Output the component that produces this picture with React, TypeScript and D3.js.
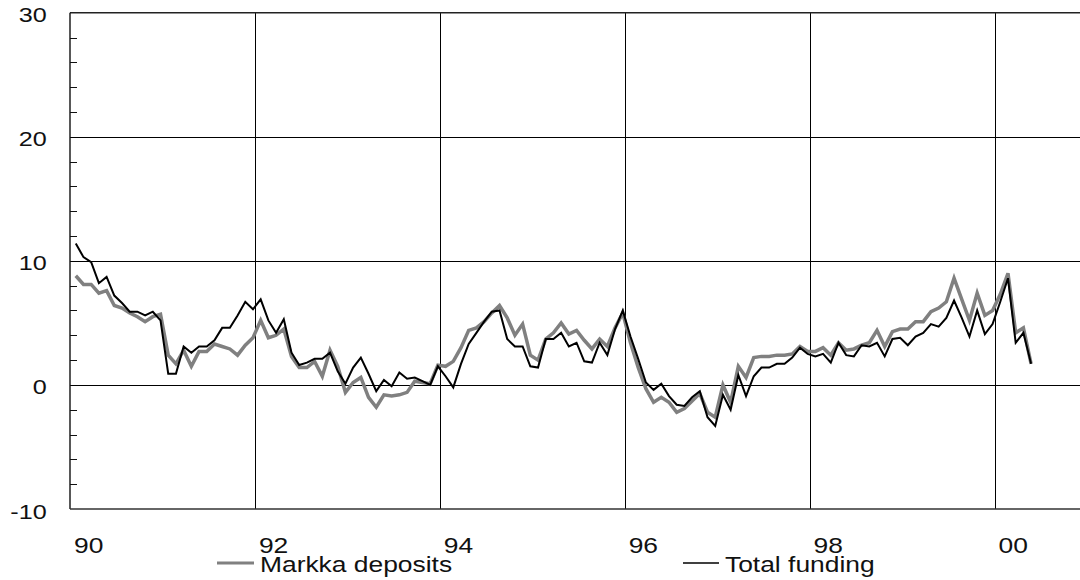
import React from "react";
import * as d3 from "d3";

// Monthly growth rates (%), first point Feb 1990
const markkaDeposits: number[] = [
  8.8, 8.1, 8.1, 7.4, 7.6, 6.4, 6.2, 5.8, 5.5, 5.1, 5.5, 5.7, 2.4, 1.7, 2.8, 1.5, 2.7, 2.7, 3.3, 3.1, 2.9, 2.4,
  3.2, 3.8, 5.2, 3.8, 4.0, 4.5, 2.3, 1.4, 1.4, 1.9, 0.7, 2.8, 1.5, -0.6, 0.2, 0.6, -1.0, -1.8, -0.8, -0.9, -0.8, -0.6,
  0.3, 0.2, 0.1, 1.6, 1.5, 1.9, 3.0, 4.4, 4.6, 5.1, 5.8, 6.4, 5.4, 4.0, 4.9, 2.4, 2.0, 3.7, 4.2, 5.0, 4.1, 4.4,
  3.6, 2.9, 3.7, 3.1, 4.6, 5.8, 3.4, 1.4, -0.3, -1.4, -1.0, -1.4, -2.2, -1.9, -1.3, -0.7, -2.2, -2.6, 0.0, -1.4, 1.5, 0.6,
  2.2, 2.3, 2.3, 2.4, 2.4, 2.5, 3.1, 2.7, 2.7, 3.0, 2.4, 3.4, 2.8, 2.9, 3.2, 3.4, 4.4, 3.1, 4.3, 4.5, 4.5, 5.1,
  5.1, 5.9, 6.2, 6.7, 8.6, 6.9, 5.2, 7.4, 5.6, 6.0, 7.3, 9.0, 4.2, 4.6, 1.7,
];

const totalFunding: number[] = [
  11.4, 10.3, 9.9, 8.2, 8.7, 7.2, 6.6, 5.9, 5.9, 5.6, 5.9, 5.2, 0.9, 0.9, 3.1, 2.6, 3.1, 3.1, 3.6, 4.6, 4.6, 5.6,
  6.7, 6.1, 6.9, 5.2, 4.2, 5.3, 2.6, 1.6, 1.8, 2.1, 2.1, 2.6, 1.1, 0.1, 1.4, 2.2, 0.9, -0.5, 0.4, -0.1, 1.0, 0.5,
  0.6, 0.3, 0.0, 1.5, 0.7, -0.2, 1.7, 3.3, 4.2, 5.1, 5.9, 6.0, 3.7, 3.1, 3.1, 1.5, 1.4, 3.7, 3.7, 4.2, 3.1, 3.4,
  1.9, 1.8, 3.4, 2.4, 4.5, 6.0, 3.9, 2.1, 0.2, -0.4, 0.1, -0.9, -1.6, -1.7, -1.0, -0.5, -2.6, -3.3, -0.8, -2.0, 0.8, -0.9,
  0.7, 1.4, 1.4, 1.7, 1.7, 2.2, 3.0, 2.5, 2.3, 2.5, 1.8, 3.4, 2.4, 2.3, 3.2, 3.1, 3.4, 2.3, 3.7, 3.8, 3.2, 3.9,
  4.2, 4.9, 4.7, 5.4, 6.8, 5.4, 3.9, 6.0, 4.1, 4.9, 6.7, 8.6, 3.4, 4.2, 1.7,
];

const xTickYears: number[] = [1990, 1992, 1994, 1996, 1998, 2000];
const xTickLabels: string[] = ["90", "92", "94", "96", "98", "00"];
const yTicks: number[] = [-10, 0, 10, 20, 30];
const yMinorTicks: number[] = [-8, -6, -4, -2, 2, 4, 6, 8, 12, 14, 16, 18, 22, 24, 26, 28];
const seriesNames: string[] = ["Markka deposits", "Total funding"];

const W = 1080;
const H = 580;
const left = 70;
const right = 1080;
const top = 12.7;
const bottom = 509;
const FONT = "'Liberation Sans', Arial, Helvetica, sans-serif";
const SX = 1.2;

export default function App() {
  const x = d3.scaleLinear().domain([1990, 2000]).range([left, 994.5]);
  const y = d3.scaleLinear().domain([-10, 30]).range([bottom, top]);
  const t = (i: number) => 1990 + (i + 0.75) / 12;

  const line = d3
    .line<number>()
    .x((_, i) => x(t(i)))
    .y((d) => y(d))
    .curve(d3.curveLinear);

  return (
    <svg
      width={W}
      height={H}
      style={{ position: "absolute", left: 0, top: 0, background: "#fff" }}
      fontFamily={FONT}
    >
      <rect x={0} y={0} width={W} height={H} fill="#fff" />
      {/* horizontal gridlines */}
      {[0, 10, 20].map((v) => (
        <line key={"h" + v} x1={left} x2={right} y1={Math.round(y(v)) + 0.5} y2={Math.round(y(v)) + 0.5} stroke="#000" strokeWidth={1} />
      ))}
      {/* vertical gridlines */}
      {xTickYears.slice(1).map((yr) => (
        <line key={"v" + yr} x1={Math.round(x(yr)) + 0.5} x2={Math.round(x(yr)) + 0.5} y1={top} y2={bottom} stroke="#000" strokeWidth={1} />
      ))}
      {/* top border */}
      <line x1={left} x2={right} y1={y(30)} y2={y(30)} stroke="#222" strokeWidth={1.6} />
      {/* left axis */}
      <line x1={left} x2={left} y1={top} y2={bottom} stroke="#111" strokeWidth={1.4} />
      {/* bottom axis */}
      <line x1={left} x2={right} y1={y(-10)} y2={y(-10)} stroke="#333" strokeWidth={1.6} />
      {/* minor ticks */}
      {yMinorTicks.map((v) => (
        <line key={"m" + v} x1={left} x2={left + 7} y1={Math.round(y(v)) + 0.5} y2={Math.round(y(v)) + 0.5} stroke="#111" strokeWidth={1} />
      ))}
      {/* y labels */}
      {yTicks.map((v) => (
        <text
          key={"yl" + v}
          transform={`translate(46.7,${y(v) + 9.5}) scale(${SX},1)`}
          textAnchor="end"
          fontSize={21}
          fill="#111"
        >
          {v}
        </text>
      ))}
      {/* x labels */}
      {xTickYears.map((yr, i) => (
        <text
          key={"xl" + yr}
          transform={`translate(${x(yr) + 4},552.7) scale(${SX},1)`}
          fontSize={22}
          fill="#111"
        >
          {xTickLabels[i]}
        </text>
      ))}
      {/* series */}
      <path d={line(markkaDeposits) || ""} fill="none" stroke="#808080" strokeWidth={3.5} strokeLinejoin="miter" />
      <path d={line(totalFunding) || ""} fill="none" stroke="#000" strokeWidth={2} strokeLinejoin="miter" />
      {/* legend */}
      <line x1={217} x2={254} y1={563} y2={563} stroke="#808080" strokeWidth={3} />
      <text transform={`translate(260,572) scale(${SX},1)`} fontSize={22} fill="#111">
        {seriesNames[0]}
      </text>
      <line x1={683} x2={719} y1={563} y2={563} stroke="#000" strokeWidth={1.6} />
      <text transform={`translate(725,572) scale(${SX},1)`} fontSize={22} fill="#111">
        {seriesNames[1]}
      </text>
    </svg>
  );
}
